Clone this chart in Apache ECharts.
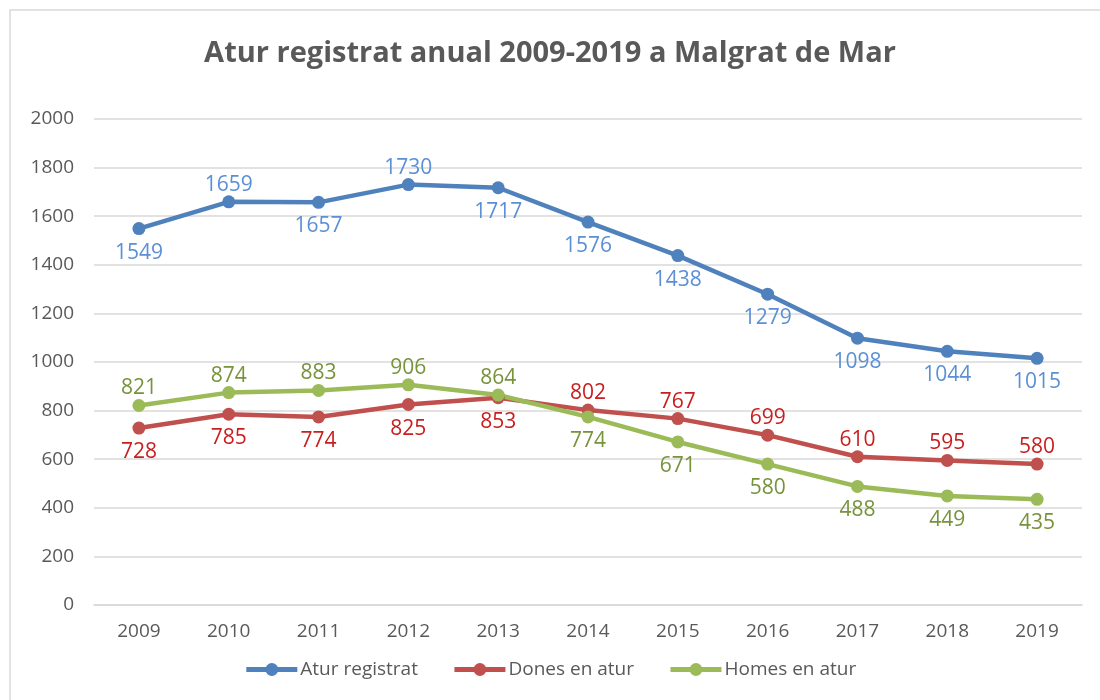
<!DOCTYPE html>
<html>
<head>
<meta charset="utf-8">
<script src="https://cdn.jsdelivr.net/npm/echarts@6/dist/echarts.min.js"></script>
<style>
  html, body { margin: 0; padding: 0; background: #fff; }
  #chart { width: 1100px; height: 700px; }
</style>
</head>
<body>
<div id="chart"></div>
<script>
// Registered unemployment in Malgrat de Mar, 2009-2019
const years = ['2009','2010','2011','2012','2013','2014','2015','2016','2017','2018','2019'];
const aturRegistrat = [1549, 1659, 1657, 1730, 1717, 1576, 1438, 1279, 1098, 1044, 1015];
const donesEnAtur  = [728, 785, 774, 825, 853, 802, 767, 699, 610, 595, 580];
const homesEnAtur  = [821, 874, 883, 906, 864, 774, 671, 580, 488, 449, 435];

// where each value label sits relative to its point
const aturPos  = ['bottom','top','bottom','top','bottom','bottom','bottom','bottom','bottom','bottom','bottom'];
const donesPos = ['bottom','bottom','bottom','bottom','bottom','top','top','top','top','top','top'];
const homesPos = ['top','top','top','top','top','bottom','bottom','bottom','bottom','bottom','bottom'];

const FONT = '"Open Sans", "Noto Sans", sans-serif';

function buildSeries(name, values, positions, lineColor, labelColor) {
  return {
    name: name,
    type: 'line',
    data: values.map((v, i) => ({
      value: v,
      label: { position: positions[i], distance: positions[i] === 'top' ? 0 : 7 }
    })),
    symbol: 'circle',
    symbolSize: 13,
    lineStyle: { width: 4.5, color: lineColor },
    itemStyle: { color: lineColor },
    label: {
      show: true,
      color: labelColor,
      fontSize: 21,
      fontFamily: FONT
    },
    z: 3
  };
}

const chart = echarts.init(document.getElementById('chart'));
chart.setOption({
  animation: false,
  backgroundColor: '#fff',
  graphic: [{
    type: 'rect',
    shape: { x: 10, y: 10, width: 1100, height: 700 },
    style: { fill: 'none', stroke: '#d9d9d9', lineWidth: 1.5 },
    silent: true
  }],
  title: {
    text: 'Atur registrat anual 2009-2019 a Malgrat de Mar',
    left: 'center',
    top: 34,
    textStyle: { fontFamily: FONT, fontSize: 29, fontWeight: 'bold', color: '#595959' }
  },
  legend: {
    bottom: 16,
    left: 'center',
    itemWidth: 51,
    itemHeight: 16,
    itemGap: 34,
    lineStyle: { width: 5 },
    textStyle: { fontFamily: FONT, fontSize: 19, color: '#595959', padding: [0, 0, 0, -2] },
    data: ['Atur registrat', 'Dones en atur', 'Homes en atur']
  },
  grid: { left: 94, right: 18, top: 119, bottom: 95, containLabel: false },
  xAxis: {
    type: 'category',
    data: years,
    boundaryGap: true,
    axisLine: { show: true, lineStyle: { color: '#d9d9d9', width: 1.5 } },
    axisTick: { show: false },
    axisLabel: { fontFamily: FONT, fontSize: 19, color: '#595959', margin: 17 }
  },
  yAxis: {
    type: 'value',
    min: 0,
    max: 2000,
    interval: 200,
    axisLine: { show: false },
    axisTick: { show: false },
    splitLine: { lineStyle: { color: '#d9d9d9', width: 1.5 } },
    axisLabel: {
      fontFamily: FONT, fontSize: 19, color: '#595959', margin: 20,
      formatter: v => String(v)
    }
  },
  series: [
    buildSeries('Atur registrat', aturRegistrat, aturPos, '#4F81BD', '#5B8FD6'),
    buildSeries('Dones en atur', donesEnAtur, donesPos, '#C0504D', '#C81E1E'),
    buildSeries('Homes en atur', homesEnAtur, homesPos, '#9BBB59', '#77933C')
  ]
});
</script>
</body>
</html>
